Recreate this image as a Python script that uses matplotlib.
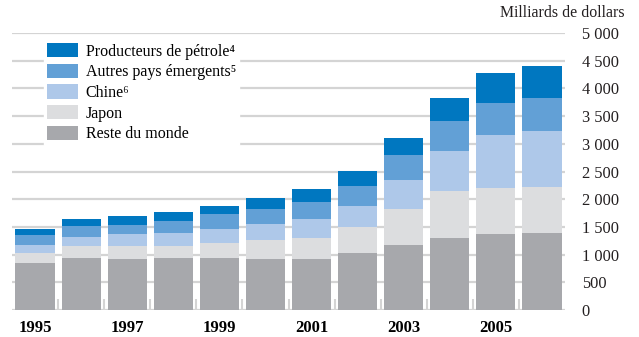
import matplotlib.pyplot as plt
import numpy as np

plt.rcParams['font.family'] = ['Liberation Serif', 'DejaVu Serif']

# data (milliards de dollars)
years = [1995, 1996, 1997, 1998, 1999, 2000, 2001, 2002, 2003, 2004, 2005, 2006]
reste = [850, 940, 920, 940, 940, 920, 920, 1030, 1175, 1300, 1370, 1390]
japon = [180, 215, 235, 215, 270, 345, 380, 470, 650, 850, 830, 830]
chine = [145, 165, 215, 235, 255, 290, 345, 380, 525, 720, 955, 1010]
autres = [180, 200, 165, 215, 270, 270, 305, 360, 450, 540, 580, 595]
petrole = [110, 125, 160, 165, 145, 200, 235, 270, 305, 415, 540, 580]

series = [reste, japon, chine, autres, petrole]
labels = ['Reste du monde', 'Japon', 'Chine\u2076', 'Autres pays émergents\u2075',
          'Producteurs de pétrole\u2074']
colors = ['#A7A8AC', '#DCDDDF', '#AEC8E9', '#62A0D6', '#0077C0']

fig = plt.figure(figsize=(6.39, 3.37), dpi=100)
ax = fig.add_axes([12/639, 1 - 310/337, 553/639, 277/337])

x = np.arange(len(years))
bottom = np.zeros(len(years))
for vals, lab, col in zip(series, labels, colors):
    ax.bar(x, vals, bottom=bottom, width=0.85, color=col, label=lab, zorder=3)
    bottom += np.array(vals)

ax.set_xlim(-0.5, len(years) - 0.5)
ax.set_ylim(0, 5000)
ax.set_yticks(np.arange(0, 5001, 500))
ax.set_yticklabels([f'{v:,}'.replace(',', ' ') for v in range(0, 5001, 500)])
ax.yaxis.tick_right()
ax.tick_params(axis='y', length=0, pad=12, labelsize=11.8, colors='#231F20')
ax.grid(axis='y', color='#D4D4D4', linewidth=1.6, zorder=0)

# small separators between bars
ax.set_xticks(x[:-1] + 0.5, minor=True)
ax.tick_params(axis='x', which='minor', direction='in', length=8, width=1.5, color='#D4D4D4')
ax.set_xticks(x[::2])
ax.set_xticklabels([str(y) for y in years[::2]], fontweight='bold', fontsize=12)
ax.tick_params(axis='x', which='major', length=0, pad=7)

for s in ax.spines.values():
    s.set_visible(False)

fig.text(625/639, 1 - 13/337, 'Milliards de dollars', ha='right', va='center',
         fontsize=11.4, color='#231F20')

h, l = ax.get_legend_handles_labels()
leg = ax.legend(h[::-1], l[::-1], loc='upper left', bbox_to_anchor=(32/553, 1 - 7/277),
                frameon=True, fancybox=False, edgecolor='white', framealpha=1,
                fontsize=11.5, handlelength=1.9, handleheight=1.0, labelspacing=0.25,
                borderpad=0.2, handletextpad=0.5, borderaxespad=0)
leg.set_zorder(5)

fig.savefig('out.png', dpi=100)
